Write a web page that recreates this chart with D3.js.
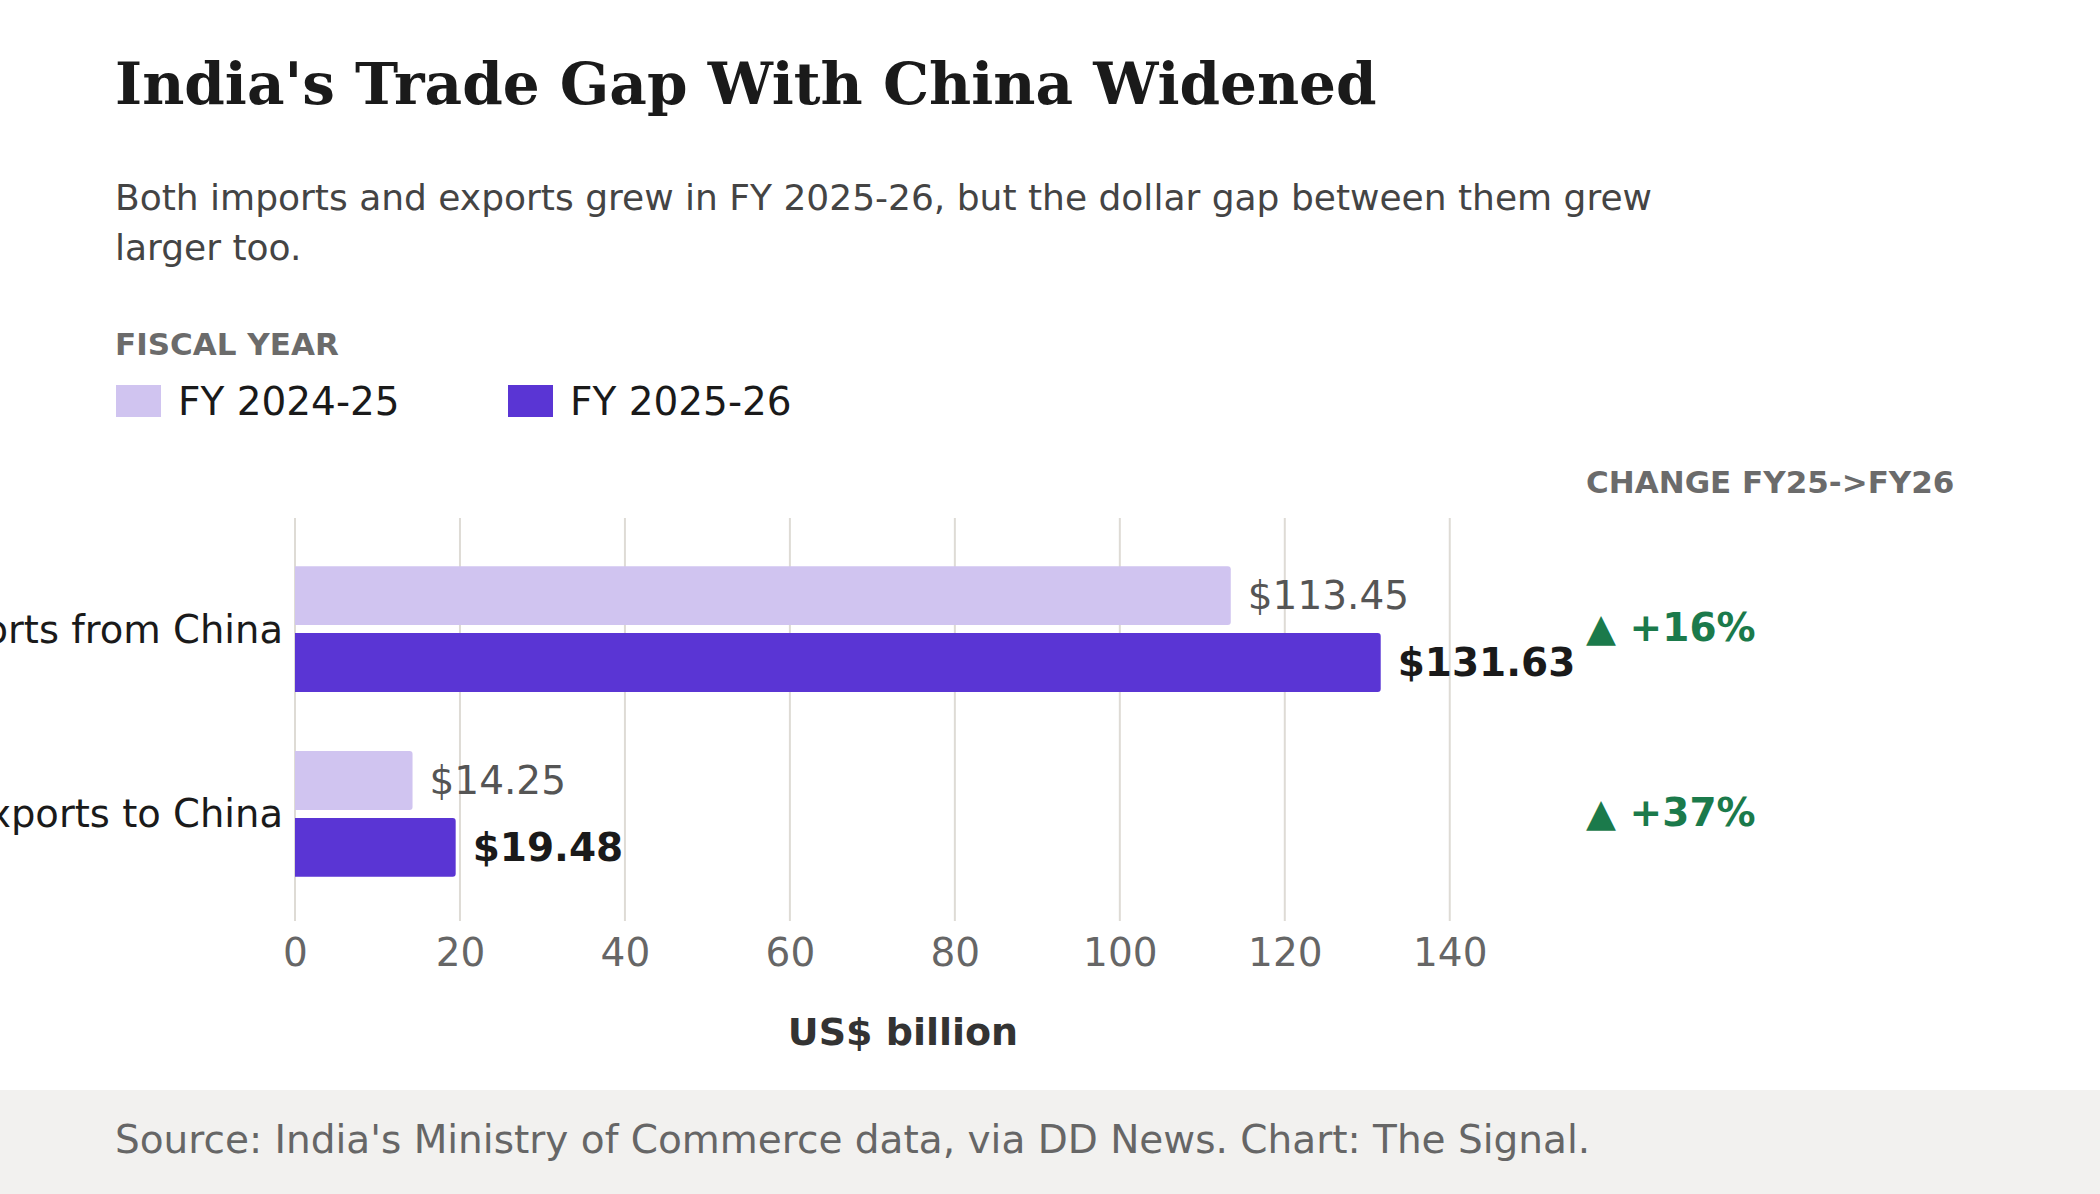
<!DOCTYPE html>
<html>
<head>
<meta charset="utf-8">
<script src="https://cdn.jsdelivr.net/npm/d3@7"></script>
<style>
  body { margin: 0; background: #fff; }
  svg text { font-family: "DejaVu Sans", sans-serif; }
</style>
</head>
<body>
<div id="chart"></div>
<script>
const categories = ['Imports from China', 'Exports to China'];
const seriesNames = ['FY 2024-25', 'FY 2025-26'];
const fy2425 = [113.45, 14.25];
const fy2526 = [131.63, 19.48];
const xTicks = [0, 20, 40, 60, 80, 100, 120, 140];
const subtitleLines = [
    'Both imports and exports grew in FY 2025-26, but the dollar gap between them grew',
    'larger too.'
];

const width = 2100;
const height = 1194;
const colors = ['#d0c4f0', '#5a35d4'];

const rows = categories.map((c, i) => ({ cat: c, values: [fy2425[i], fy2526[i]] }));

const svg = d3.select('#chart').append('svg')
    .attr('width', width)
    .attr('height', height);

// header
svg.append('text')
    .attr('x', 115).attr('y', 104)
    .style('font-family', '"DejaVu Serif", serif')
    .attr('font-weight', 'bold')
    .attr('font-size', 58)
    .attr('fill', '#1a1a1a')
    .text("India's Trade Gap With China Widened");

svg.append('g').selectAll('text')
    .data(subtitleLines)
    .join('text')
    .attr('x', 115)
    .attr('y', (d, i) => 210 + i * 50)
    .attr('font-size', 36)
    .attr('fill', '#444')
    .text(d => d);

// legend
svg.append('text')
    .attr('x', 115).attr('y', 355)
    .attr('font-size', 31).attr('font-weight', 'bold')
    .attr('fill', '#6b6b6b')
    .text('FISCAL YEAR');

const legend = svg.append('g').selectAll('g')
    .data(seriesNames)
    .join('g')
    .attr('transform', (d, i) => `translate(${116 + i * 392}, 385)`);
legend.append('rect')
    .attr('width', 45).attr('height', 32)
    .attr('fill', (d, i) => colors[i]);
legend.append('text')
    .attr('x', 62).attr('y', 16)
    .attr('dy', '0.35em')
    .attr('font-size', 39)
    .attr('fill', '#1a1a1a')
    .text(d => d);

// scales
const x = d3.scaleLinear()
    .domain([0, d3.max(fy2526) * 1.12])
    .range([295, 1511]);

const y = d3.scaleBand()
    .domain(categories)
    .range([520, 923])
    .paddingInner(0.32)
    .paddingOuter(0.25);

const ySub = d3.scaleBand()
    .domain([0, 1])
    .range([0, y.bandwidth()])
    .paddingInner(0.12);

// grid
svg.append('g').selectAll('line')
    .data(xTicks)
    .join('line')
    .attr('x1', d => x(d)).attr('x2', d => x(d))
    .attr('y1', 518).attr('y2', 921)
    .attr('stroke', '#dedbd5')
    .attr('stroke-width', 2);

const xAxis = svg.append('g')
    .attr('transform', 'translate(0, 921)')
    .call(d3.axisBottom(x).tickValues(xTicks).tickSize(0).tickPadding(17));
xAxis.select('.domain').remove();
xAxis.selectAll('text')
    .attr('font-size', 39)
    .attr('fill', '#666')
    .style('font-family', '"DejaVu Sans", sans-serif');

svg.append('text')
    .attr('x', (x.range()[0] + x.range()[1]) / 2)
    .attr('y', 1045)
    .attr('text-anchor', 'middle')
    .attr('font-size', 38).attr('font-weight', 'bold')
    .attr('fill', '#333')
    .text('US$ billion');

// category labels
svg.append('g').selectAll('text')
    .data(categories)
    .join('text')
    .attr('x', 283)
    .attr('y', d => y(d) + y.bandwidth() / 2)
    .attr('dy', '0.35em')
    .attr('text-anchor', 'end')
    .attr('font-size', 38.5)
    .attr('fill', '#1a1a1a')
    .text(d => d);

// bars
const groups = svg.append('g').selectAll('g')
    .data(rows)
    .join('g')
    .attr('transform', d => `translate(0, ${y(d.cat)})`);

groups.selectAll('path')
    .data(d => d.values)
    .join('path')
    .attr('fill', (d, i) => colors[i])
    .attr('d', (d, i) => {
        const x0 = x(0), x1 = x(d), y0 = ySub(i), h = ySub.bandwidth(), r = 3;
        return `M${x0},${y0}H${x1 - r}Q${x1},${y0} ${x1},${y0 + r}V${y0 + h - r}Q${x1},${y0 + h} ${x1 - r},${y0 + h}H${x0}Z`;
    });

groups.selectAll('text')
    .data(d => d.values)
    .join('text')
    .attr('x', d => x(d) + 17)
    .attr('y', (d, i) => ySub(i) + ySub.bandwidth() / 2)
    .attr('dy', '0.35em')
    .attr('font-size', 39)
    .attr('font-weight', (d, i) => i === 1 ? 'bold' : 'normal')
    .attr('fill', (d, i) => i === 1 ? '#1a1a1a' : '#555')
    .text(d => '$' + d3.format('.2f')(d));

// change column
svg.append('text')
    .attr('x', 1586).attr('y', 493)
    .attr('font-size', 31).attr('font-weight', 'bold')
    .attr('fill', '#6b6b6b')
    .text('CHANGE FY25->FY26');

svg.append('g').selectAll('text')
    .data(rows)
    .join('text')
    .attr('x', 1586)
    .attr('y', d => y(d.cat) + y.bandwidth() / 2 - 2)
    .attr('dy', '0.35em')
    .attr('font-size', 39).attr('font-weight', 'bold')
    .attr('fill', '#1b7a4b')
    .text(d => {
        const pct = (d.values[1] - d.values[0]) / d.values[0] * 100;
        return (pct >= 0 ? '\u25B2 +' : '\u25BC ') + Math.round(pct) + '%';
    });

// footer
svg.append('rect')
    .attr('x', 0).attr('y', 1090)
    .attr('width', width).attr('height', height - 1090)
    .attr('fill', '#f2f1ef');
svg.append('text')
    .attr('x', 115).attr('y', 1153)
    .attr('font-size', 39)
    .attr('fill', '#666')
    .text("Source: India's Ministry of Commerce data, via DD News. Chart: The Signal.");
</script>
</body>
</html>
